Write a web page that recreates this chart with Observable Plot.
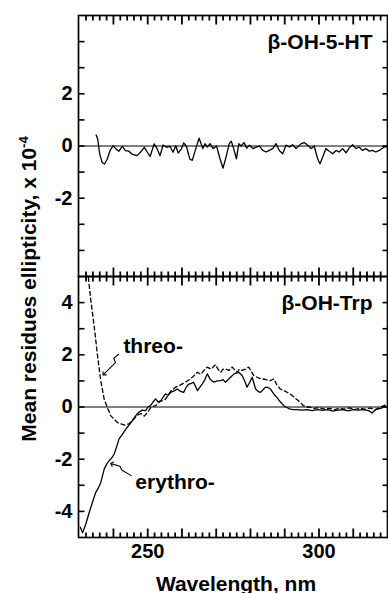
<!DOCTYPE html>
<html><head><meta charset="utf-8">
<script src="https://cdn.jsdelivr.net/npm/d3@7"></script>
<script src="https://cdn.jsdelivr.net/npm/@observablehq/plot@0.6"></script>
<style>body{margin:0;background:#fff}#chart{width:388px;height:593px}</style>
</head><body><div id="chart"></div>
<script>
// ---- data ----
const panels = ["top", "bottom"];
const panelNames = ["β-OH-5-HT", "β-OH-Trp"];

const wl5HT = [234.95,235.4,236.0,236.7,237.4,238.2,239.0,239.9,240.8,241.6,242.6,243.5,244.5,245.4,246.9,248.3,249.0,249.8,250.7,251.9,252.8,253.6,254.5,255.5,256.5,257.4,258.2,258.9,259.8,260.5,261.3,262.3,263.0,264.0,265.0,266.1,266.7,267.4,268.2,269.1,270.1,271.1,272.0,273.0,273.8,274.4,275.1,275.9,276.6,277.3,278.1,278.9,279.7,280.7,281.7,282.6,283.6,284.6,285.5,286.5,287.5,288.4,289.4,290.4,291.4,292.3,293.3,294.8,295.7,296.7,297.7,298.6,299.6,300.3,301.1,302.0,303.0,304.0,305.0,305.9,306.9,307.9,308.8,309.8,310.8,311.7,312.7,313.7,314.7,315.6,316.6,317.6,319.0,320];
const cd5HT = [0.42,0.27,-0.31,-0.63,-0.69,-0.5,-0.18,0.01,-0.12,-0.2,-0.01,-0.18,-0.2,-0.31,-0.37,-0.18,-0.05,-0.22,-0.4,0.08,-0.12,-0.37,0.04,-0.05,-0.01,-0.24,0.01,-0.27,-0.12,0.12,-0.01,-0.5,-0.55,-0.12,0.3,-0.1,0.09,-0.04,0.09,-0.1,0,-0.49,-0.85,-0.36,0.09,0.18,-0.1,-0.49,0.09,0,0.13,-0.08,0.03,-0.1,-0.04,0,-0.17,-0.23,-0.17,-0.1,0.09,-0.17,-0.3,0.03,-0.04,0.05,-0.1,0.09,0.13,0.03,-0.1,0,-0.49,-0.68,-0.42,-0.1,-0.2,-0.3,-0.17,-0.23,-0.1,-0.26,-0.08,0.05,-0.1,-0.04,-0.17,-0.1,-0.2,-0.17,-0.23,-0.17,-0.04,-0.02];

const wlThreo = [232.3,232.8,233.4,234.4,235.3,236.3,237.3,237.8,239.2,241.1,243.1,244.5,246.0,247.0,248.0,249.0,250.0,251.0,252.3,253.5,255.2,256.7,258.0,259.6,261.0,262.5,263.5,264.5,265.5,266.4,267.4,268.5,269.8,270.5,271.3,272.0,272.7,273.7,274.7,275.4,276.1,276.8,277.6,278.5,279.5,280.3,281.0,282.2,283.4,284.6,285.8,286.8,287.7,288.7,290.2,291.6,292.8,294.0,295.5,296.5,297.4,298.5,300,301.5,303,304.5,306,307.5,309,310.5,312,313.5,315,316.5,318,319.5];
const cdThreo = [5.5,4.8,4.09,3.07,2.03,1.0,0.3,0.12,-0.33,-0.59,-0.69,-0.65,-0.45,-0.32,-0.25,-0.35,-0.2,0.0,0.05,0.2,0.3,0.6,0.75,0.85,0.95,1.08,1.2,1.33,1.25,1.4,1.53,1.45,1.62,1.45,1.33,1.45,1.46,1.4,1.53,1.42,1.33,1.45,1.4,1.45,1.53,1.35,1.2,1.12,1.08,1.05,1.01,1.08,0.85,0.69,0.6,0.5,0.37,0.24,0.05,0.0,-0.01,-0.05,-0.03,-0.08,-0.05,-0.1,-0.05,-0.08,-0.03,-0.1,-0.05,-0.08,-0.04,-0.1,0.0,0.08];

const wlErythro = [230.3,231.0,231.9,232.9,234.0,234.8,235.6,236.3,237.3,238.0,238.7,239.5,240.2,241.0,241.6,242.6,243.6,244.5,245.5,246.4,247.4,248.4,249.4,250.1,250.8,251.6,252.3,253.0,253.8,254.5,255.2,256.0,256.7,257.7,258.6,259.6,260.5,261.2,262.0,262.7,263.4,264.5,265.2,265.9,266.7,267.4,268.3,269.3,270.3,271.3,272.0,272.7,273.5,274.2,275.2,276.6,277.6,278.3,279.0,279.8,280.5,281.5,282.2,282.9,283.6,284.4,285.1,285.8,286.8,287.7,288.7,289.7,290.6,291.6,292.5,293.5,295,296.5,298,299.5,301,302.5,304,305.5,307,308.5,310,311.5,313,314.5,315.5,316.5,318,319.5];
const cdErythro = [-4.6,-4.82,-4.5,-4.05,-3.6,-3.28,-3.1,-2.9,-2.38,-2.2,-2.06,-1.95,-1.81,-1.5,-1.23,-1.05,-0.85,-0.7,-0.53,-0.35,-0.2,-0.12,-0.14,0.0,0.05,0.2,0.31,0.2,0.24,0.38,0.5,0.45,0.56,0.62,0.69,0.6,0.56,0.75,0.88,0.9,0.95,0.63,0.75,0.88,1.05,1.27,1.05,0.95,1.0,1.01,1.05,0.95,1.05,1.14,1.27,1.33,1.2,1.0,0.76,0.95,1.14,0.69,0.6,0.56,0.65,0.76,0.75,0.69,0.5,0.37,0.2,0.05,-0.02,-0.08,-0.1,-0.1,-0.12,-0.1,-0.14,-0.1,-0.13,-0.1,-0.16,-0.12,-0.1,-0.15,-0.1,-0.12,-0.1,-0.14,-0.23,-0.1,-0.05,0.02];

// annotations (data coordinates)
const annoText = ["threo-", "erythro-"];
const annoWl = [242.9, 246.4];
const annoCd = [2.07, -3.13];
const threoArrowWl = [241.5, 240.1, 240.6, 237.2];
const threoArrowCd = [2.02, 1.87, 1.70, 1.26];
const erythroArrowWl = [245.2, 242.5, 241.9, 239.5];
const erythroArrowCd = [-2.63, -2.42, -2.27, -2.18];

// ticks
const yTicks = [-4,-3,-2,-1,0,1,2,3,4];
const yLabelsTop = [-2, 0, 2];
const yLabelsBottom = [-4, -2, 0, 2, 4];
const xMinor = [232,234,236,238,242,244,246,248,252,254,256,258,262,264,266,268,272,274,276,278,282,284,286,288,292,294,296,298,302,304,306,308,312,314,316,318];
const xMajor = [240, 250, 260, 270, 280, 290, 300, 310];
const xLabels = [250, 300];

// ---- layout ----
const W = 388, H = 593, mL = 78, mR = 1, mT = 14, mB = 56;
const xDom = [229.8, 320], yDom = [-5, 5];
const pxX = (W - mL - mR) / (xDom[1] - xDom[0]);
const pxY = ((H - mT - mB) / panels.length) / (yDom[1] - yDom[0]);

// ---- build tables ----
const rows = (panel, wl, cd) => wl.map((w, i) => ({panel, wl: w, cd: cd[i]}));
const top5HT = rows("top", wl5HT, cd5HT);
const threo = rows("bottom", wlThreo, cdThreo);
const erythro = rows("bottom", wlErythro, cdErythro);
const threoArrow = rows("bottom", threoArrowWl, threoArrowCd);
const erythroArrow = rows("bottom", erythroArrowWl, erythroArrowCd);
const annos = annoText.map((t, i) => ({panel: "bottom", t, wl: annoWl[i], cd: annoCd[i]}));
const names = panels.map((p, i) => ({panel: p, t: panelNames[i]}));
const yLab = [...yLabelsTop.map(v => ({panel: "top", v})), ...yLabelsBottom.map(v => ({panel: "bottom", v}))];

// inward tick tables: one row per tick per panel edge, inner end from a px length
const xTickRows = [];
for (const p of panels) {
  for (const v of xMinor) {
    xTickRows.push({panel: p, v, a: yDom[1], b: yDom[1] - 5 / pxY});
    xTickRows.push({panel: p, v, a: yDom[0], b: yDom[0] + 5 / pxY});
  }
  for (const v of xMajor) {
    xTickRows.push({panel: p, v, a: yDom[1], b: yDom[1] - 9 / pxY});
    xTickRows.push({panel: p, v, a: yDom[0], b: yDom[0] + 9 / pxY});
  }
}
const yTickRows = [];
for (const p of panels) {
  for (const v of yTicks) {
    yTickRows.push({panel: p, v, a: xDom[0], b: xDom[0] + 6 / pxX});
    yTickRows.push({panel: p, v, a: xDom[1], b: xDom[1] - 5 / pxX});
  }
}

const FONT = "Liberation Sans, Arial, Helvetica, sans-serif";
const fs = 20;

const chart = Plot.plot({
  width: W, height: H,
  marginLeft: mL, marginRight: mR, marginTop: mT, marginBottom: mB,
  style: {fontFamily: FONT, background: "#fff", color: "#000"},
  x: {domain: xDom, axis: null},
  y: {domain: yDom, axis: null},
  fy: {domain: panels, padding: 0, axis: null},
  marks: [
    Plot.ruleY([0], {stroke: "#000", strokeWidth: 1}),
    Plot.line(top5HT, {x: "wl", y: "cd", fy: "panel", stroke: "#000", strokeWidth: 1.3}),
    Plot.line(threo, {x: "wl", y: "cd", fy: "panel", stroke: "#000", strokeWidth: 1.3, strokeDasharray: "4,3", clip: true}),
    Plot.line(erythro, {x: "wl", y: "cd", fy: "panel", stroke: "#000", strokeWidth: 1.3, clip: true}),
    Plot.line(threoArrow, {x: "wl", y: "cd", fy: "panel", stroke: "#000", strokeWidth: 1.1, markerEnd: "arrow"}),
    Plot.line(erythroArrow, {x: "wl", y: "cd", fy: "panel", stroke: "#000", strokeWidth: 1.1, markerEnd: "arrow"}),
    Plot.frame({stroke: "#000", strokeWidth: 1.7}),
    Plot.link(xTickRows, {x1: "v", x2: "v", y1: "a", y2: "b", fy: "panel", stroke: "#000", strokeWidth: 1.8}),
    Plot.link(yTickRows, {y1: "v", y2: "v", x1: "a", x2: "b", fy: "panel", stroke: "#000", strokeWidth: 1.6}),
    Plot.text(yLab, {y: "v", fy: "panel", text: d => String(d.v), frameAnchor: "left", textAnchor: "end", dx: -6, fontSize: fs, fontWeight: "bold", fill: "#000"}),
    Plot.text(xLabels, {x: d => d, fy: () => "bottom", text: d => String(d), frameAnchor: "bottom", lineAnchor: "top", dy: 6, fontSize: fs, fontWeight: "bold", fill: "#000"}),
    Plot.text(["Wavelength, nm"], {fy: () => "bottom", text: d => d, frameAnchor: "bottom", lineAnchor: "bottom", dy: 53, dx: 3, fontSize: fs + 1, fontWeight: "bold", fill: "#000"}),
    Plot.text(names, {fy: "panel", text: "t", frameAnchor: "top-right", textAnchor: "end", lineAnchor: "top", dx: -15, dy: 19, fontSize: fs + 1, fontWeight: "bold", fill: "#000"}),
    Plot.text(annos, {x: "wl", y: "cd", fy: "panel", text: "t", textAnchor: "start", lineAnchor: "bottom", fontSize: fs + 1, fontWeight: "bold", fill: "#000"})
  ]
});

const svg = d3.select(chart.tagName.toLowerCase() === "svg" ? chart : chart.querySelector("svg"));
const yl = svg.append("text")
  .attr("transform", "translate(36,289) rotate(-90)")
  .attr("text-anchor", "middle")
  .style("font-family", FONT).style("font-weight", "bold").style("font-size", "21px")
  .attr("fill", "#000")
  .text("Mean residues ellipticity, x 10");
yl.append("tspan").attr("dy", "-0.6em").style("font-size", "13px").text("-4");

document.getElementById("chart").appendChild(chart);
</script>
</body></html>
